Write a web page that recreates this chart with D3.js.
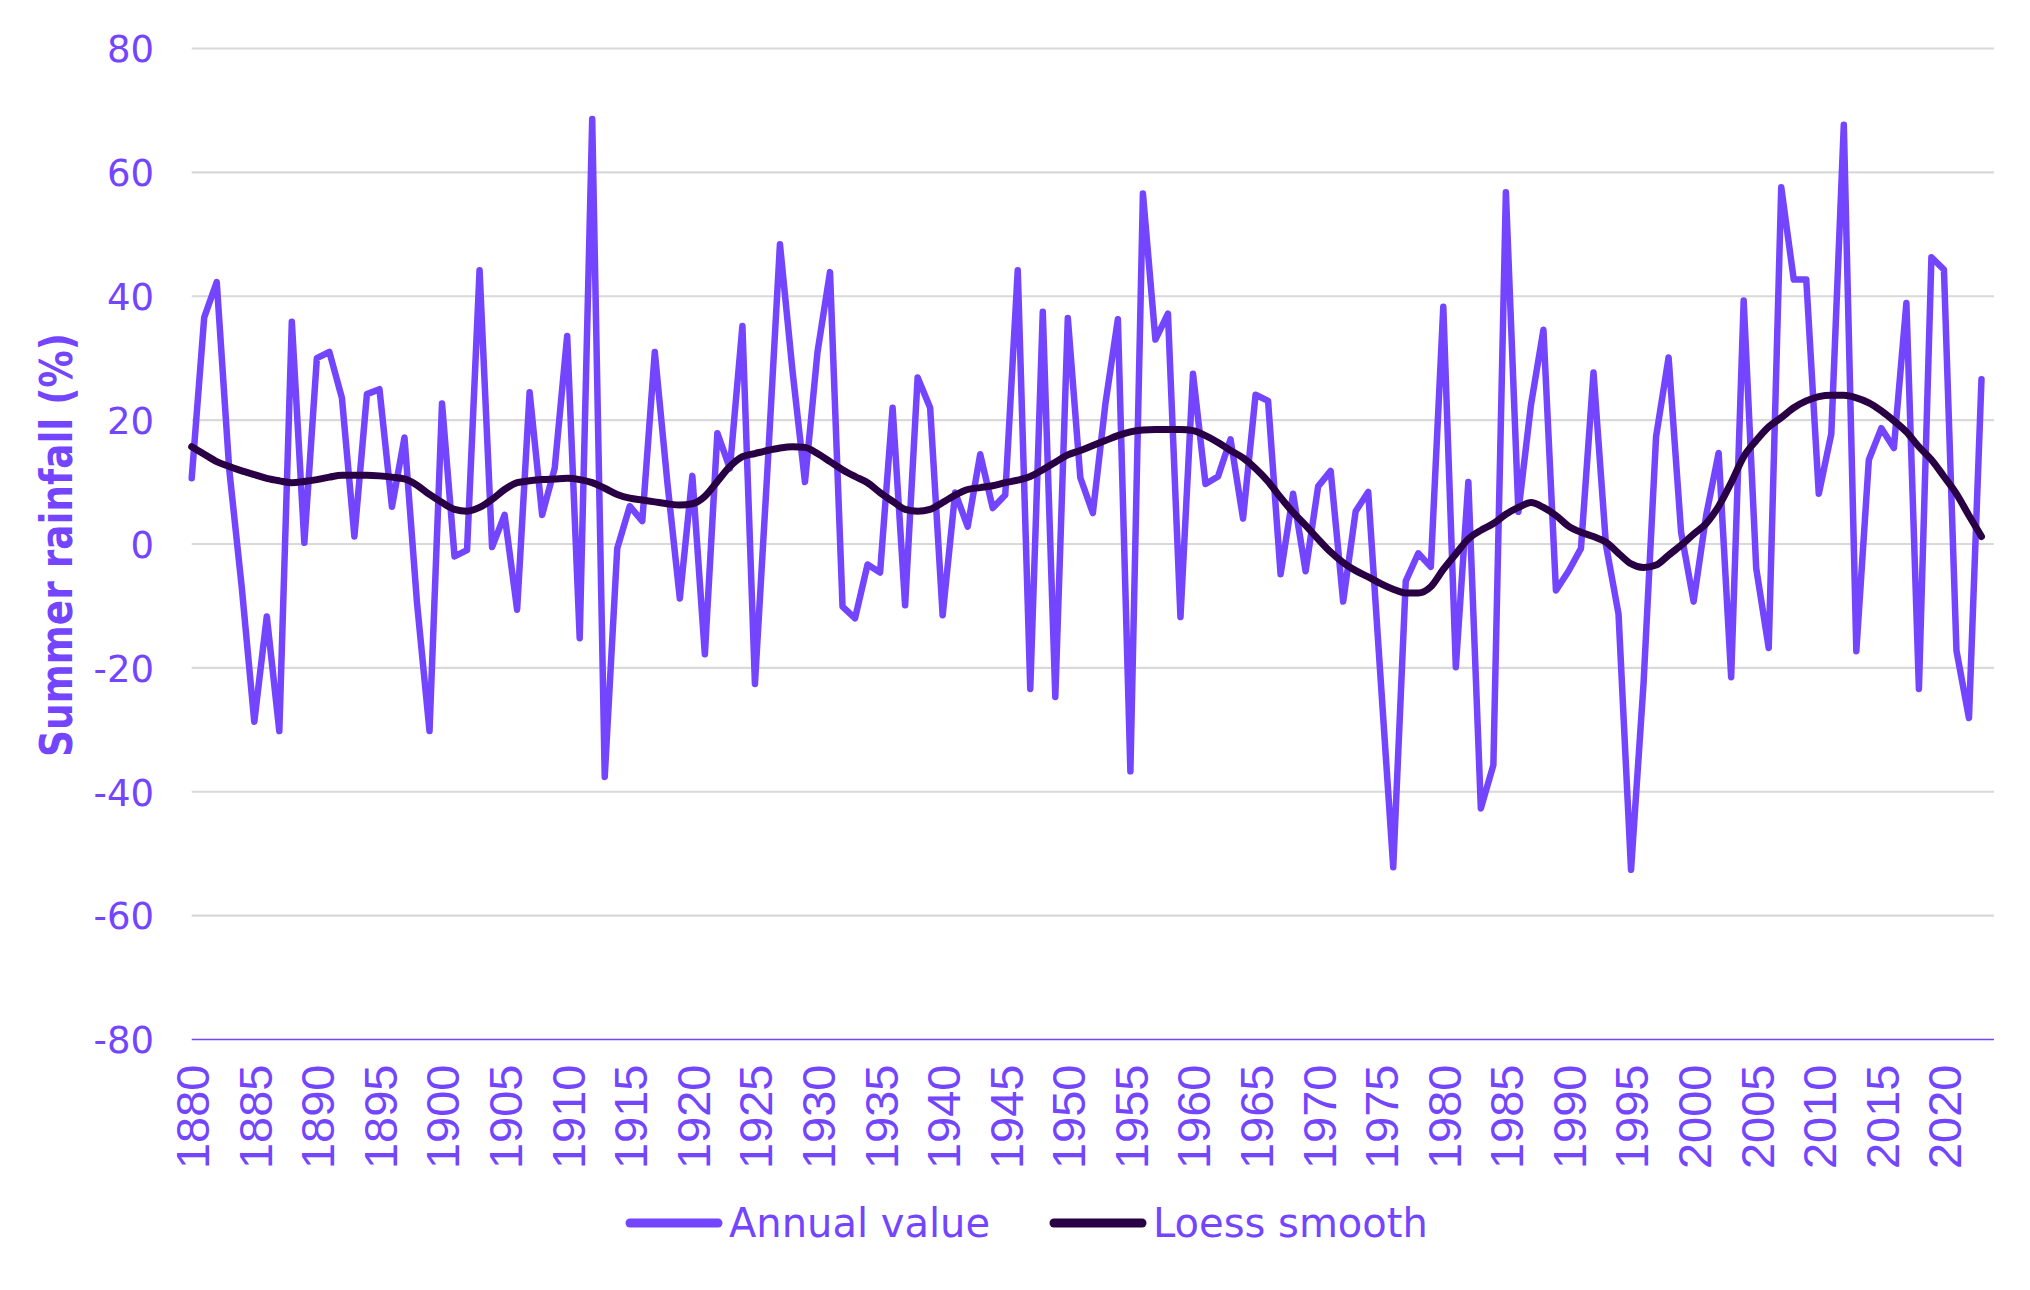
<!DOCTYPE html>
<html>
<head>
<meta charset="utf-8">
<script src="https://cdn.jsdelivr.net/npm/d3@7"></script>
<style>
  html, body { margin: 0; padding: 0; background: #ffffff; }
  svg { display: block; }
</style>
</head>
<body>
<svg id="chart" width="2030" height="1290"></svg>
<script>
// ---- DATA ----
const years = d3.range(1880, 2024);
const annualValue = [
  10.6, 36.6, 42.3, 12, -7, -28.7, -11.7, -30.2, 35.9, 0.2,
  30, 31, 23.6, 1.2, 24.2, 25, 6, 17.2, -9.5, -30.2,
  22.7, -2, -1, 44.2, -0.5, 4.7, -10.6, 24.5, 4.7, 12.2,
  33.6, -15.2, 68.6, -37.6, -0.7, 6.1, 3.7, 31, 10, -8.8,
  11, -17.8, 17.9, 12.2, 35.2, -22.6, 12, 48.4, 28, 10,
  31, 43.9, -10.1, -12, -3.3, -4.6, 22, -9.9, 26.9, 22,
  -11.5, 8.3, 2.8, 14.5, 5.8, 7.9, 44.2, -23.4, 37.5, -24.7,
  36.5, 10.7, 5, 22.6, 36.3, -36.7, 56.6, 33, 37.2, -11.8,
  27.5, 9.7, 10.9, 16.9, 4.1, 24.1, 23.1, -4.9, 8.1, -4.4,
  9.3, 11.8, -9.3, 5.3, 8.4, -22, -52.2, -6, -1.5, -3.7,
  38.3, -19.9, 10, -42.7, -35.7, 56.8, 5.2, 22.4, 34.6, -7.5,
  -4.4, -0.7, 27.7, -0.2, -11.3, -52.6, -22.5, 17.3, 30.1, 1.9,
  -9.3, 4.6, 14.7, -21.5, 39.3, -3.9, -16.8, 57.6, 42.7, 42.7,
  8.1, 17.8, 67.7, -17.3, 13.6, 18.7, 15.5, 38.9, -23.4, 46.3,
  44.3, -17.2, -28.1, 26.6
];
const loessSmooth = [
  15.7, 14.5, 13.3, 12.5, 11.8, 11.2, 10.6, 10.2, 9.9, 10.1,
  10.4, 10.8, 11.1, 11.1, 11.1, 11.0, 10.8, 10.5, 9.5, 8.0,
  6.7, 5.6, 5.3, 5.9, 7.2, 8.8, 9.9, 10.2, 10.4, 10.5,
  10.6, 10.4, 9.9, 9.0, 8.0, 7.4, 7.1, 6.8, 6.5, 6.3,
  6.5, 7.7, 10.1, 12.5, 14.1, 14.6, 15.1, 15.5, 15.7, 15.6,
  14.6, 13.3, 12.0, 10.9, 9.9, 8.3, 6.9, 5.6, 5.3, 5.6,
  6.7, 7.9, 8.8, 9.1, 9.4, 9.9, 10.3, 10.9, 12.0, 13.2,
  14.4, 15.1, 15.9, 16.7, 17.5, 18.1, 18.4, 18.5, 18.5, 18.5,
  18.3, 17.5, 16.4, 15.1, 13.9, 12.2, 10.1, 7.5, 5.1, 3.0,
  0.8, -1.3, -3.0, -4.3, -5.3, -6.4, -7.3, -7.9, -7.9, -6.9,
  -4.1, -1.6, 0.8, 2.2, 3.3, 4.8, 5.9, 6.7, 5.9, 4.6,
  2.9, 1.9, 1.2, 0.3, -1.5, -3.2, -3.8, -3.4, -1.8, -0.2,
  1.6, 3.3, 6.1, 9.9, 14.1, 16.7, 18.9, 20.4, 22.0, 23.1,
  23.8, 24.0, 24.0, 23.6, 22.8, 21.5, 19.9, 18.1, 15.7, 13.6,
  10.9, 8.1, 4.6, 1.2
];
const yTicks = [-80, -60, -40, -20, 0, 20, 40, 60, 80];
const xTickLabels = d3.range(1880, 2021, 5);
const seriesNames = ["Annual value", "Loess smooth"];
const yTitle = "Summer rainfall (%)";

// ---- STYLE ----
const PURPLE = "#7345FF";
const DARK = "#2A0045";
const GRID = "#D9D9D9";

const svg = d3.select("#chart");
const plotLeft = 191.7, plotRight = 1994, plotTop = 48.5, plotBottom = 1039.5;

const x = d3.scaleLinear().domain([1880, 2024]).range([plotLeft, plotRight]);
const y = d3.scaleLinear().domain([-80, 80]).range([plotBottom, plotTop]);

// gridlines
svg.append("g")
  .selectAll("line")
  .data(yTicks.filter(t => t !== -80))
  .join("line")
  .attr("x1", plotLeft).attr("x2", plotRight)
  .attr("y1", d => y(d)).attr("y2", d => y(d))
  .attr("stroke", GRID).attr("stroke-width", 2.2);

// y axis labels
const yAxis = d3.axisLeft(y).tickValues(yTicks).tickSize(0).tickPadding(0).tickFormat(d => String(d));
const gy = svg.append("g").attr("transform", `translate(154,0)`).call(yAxis);
gy.select(".domain").remove();
gy.selectAll("text")
  .attr("fill", PURPLE)
  .attr("font-family", "'DejaVu Sans', sans-serif")
  .attr("font-size", 37)
  .attr("dy", "0.36em");

// x axis
const xAxis = d3.axisBottom(x).tickValues(xTickLabels).tickSize(0).tickPadding(0).tickFormat(d => String(d));
const gx = svg.append("g").attr("transform", `translate(0,${plotBottom})`).call(xAxis);
gx.select(".domain").remove();
gx.append("line").attr("x1", plotLeft).attr("x2", plotRight).attr("y1", 0).attr("y2", 0)
  .attr("stroke", PURPLE).attr("stroke-width", 1.5);
gx.selectAll(".tick text")
  .attr("fill", PURPLE)
  .attr("font-family", "'Liberation Sans', Arial, sans-serif")
  .attr("font-size", 47)
  .attr("text-anchor", "end")
  .attr("transform", "rotate(-90)")
  .attr("x", -25)
  .attr("y", 0)
  .attr("dy", "0.36em");

// y title
svg.append("text")
  .attr("transform", `translate(56,545) rotate(-90)`)
  .attr("text-anchor", "middle")
  .attr("dy", "0.36em")
  .attr("fill", PURPLE)
  .attr("font-family", "'DejaVu Sans Condensed', 'DejaVu Sans', sans-serif")
  .attr("font-weight", "bold")
  .attr("font-size", 44)
  .attr("textLength", 424)
  .attr("lengthAdjust", "spacingAndGlyphs")
  .text(yTitle);

// lines
const line = d3.line().x((d, i) => x(years[i])).y(d => y(d));
svg.append("path").datum(annualValue)
  .attr("d", line)
  .attr("fill", "none").attr("stroke", PURPLE).attr("stroke-width", 6.5)
  .attr("stroke-linejoin", "round").attr("stroke-linecap", "round");
svg.append("path").datum(loessSmooth)
  .attr("d", d3.line().x((d, i) => x(years[i])).y(d => y(d)).curve(d3.curveMonotoneX))
  .attr("fill", "none").attr("stroke", DARK).attr("stroke-width", 7)
  .attr("stroke-linejoin", "round").attr("stroke-linecap", "round");

// legend
const legend = svg.append("g").attr("transform", "translate(0,1223)");
const legendItems = [
  { name: seriesNames[0], color: PURPLE, x0: 630 },
  { name: seriesNames[1], color: DARK, x0: 1054 }
];
legendItems.forEach(it => {
  legend.append("line").attr("x1", it.x0).attr("x2", it.x0 + 88).attr("y1", 0).attr("y2", 0)
    .attr("stroke", it.color).attr("stroke-width", 9).attr("stroke-linecap", "round");
  legend.append("text").attr("x", it.x0 + 99).attr("y", 0).attr("dy", "0.36em")
    .attr("fill", PURPLE)
    .attr("font-family", "'DejaVu Sans', sans-serif")
    .attr("font-size", 40)
    .text(it.name);
});
</script>
</body>
</html>
